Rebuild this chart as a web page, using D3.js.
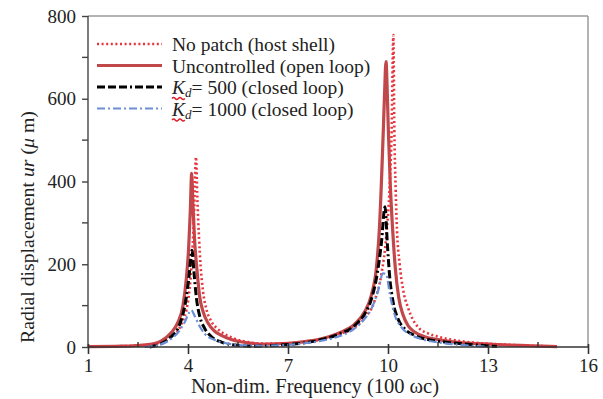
<!DOCTYPE html>
<html>
<head>
<meta charset="utf-8">
<script src="https://cdn.jsdelivr.net/npm/d3@7"></script>
<style>
  body { margin: 0; background: #fff; }
  text { font-family: "Liberation Serif", "Times New Roman", serif; fill: #222; }
</style>
</head>
<body>
<div id="chart"></div>
<script>
"use strict";

var width = 603;
var height = 399;
var margin = { "top": 16, "bottom": 52, "left": 88, "right": 15 };
var innerW = width - margin.left - margin.right;
var innerH = height - margin.top - margin.bottom;
var serif = "Liberation Serif, Times New Roman, serif";

var xTicks = [1, 4, 7, 10, 13, 16];
var xMinor = [2.5, 5.5, 8.5, 11.5, 14.5];
var yTicks = [0, 200, 400, 600, 800];
var yMinor = [100, 300, 500, 700];

// No patch (host shell)
var noPatchX = [1, 2, 2.8, 3.2, 3.5, 3.8, 4.0, 4.1, 4.18, 4.24, 4.28, 4.33, 4.38, 4.45, 4.55, 4.7, 4.9, 5.1, 5.4, 5.8, 6.3, 7, 7.5, 8, 8.5, 9, 9.3, 9.6, 9.8, 9.95, 10.05, 10.11, 10.16, 10.19, 10.23, 10.27, 10.35, 10.45, 10.6, 10.75, 10.9, 11.2, 11.6, 12.2, 13, 14, 15.07];
var noPatchY = [1, 2, 5, 12, 25, 55, 110, 190, 320, 459, 360, 265, 195, 135, 92, 62, 43, 31, 20, 12, 8, 9, 12, 18, 30, 47, 70, 112, 175, 270, 390, 525, 754, 525, 380, 283, 200, 140, 95, 66, 48, 33, 23, 14, 8, 4, 1];

// Uncontrolled (open loop)
var openX = [1, 2, 2.8, 3.2, 3.5, 3.7, 3.85, 3.95, 4.02, 4.07, 4.11, 4.15, 4.2, 4.26, 4.35, 4.45, 4.6, 4.8, 5.0, 5.3, 5.8, 6.3, 7, 7.5, 8, 8.5, 9, 9.3, 9.5, 9.65, 9.74, 9.86, 9.9, 9.94, 9.98, 10.01, 10.07, 10.14, 10.22, 10.32, 10.45, 10.6, 10.8, 11.1, 11.5, 12, 12.7, 13.5, 14.3, 15.07];
var openY = [1, 2, 6, 15, 35, 60, 100, 165, 240, 330, 420, 340, 255, 195, 122, 86, 58, 38, 28, 18, 10, 7, 9, 13, 20, 33, 55, 85, 125, 190, 283, 525, 620, 690, 610, 525, 390, 283, 190, 120, 78, 52, 36, 25, 18, 12, 8, 5, 3, 1];

// Kd = 500 (closed loop)
var kd500X = [2.85, 3.2, 3.5, 3.7, 3.85, 3.95, 4.03, 4.12, 4.18, 4.25, 4.35, 4.5, 4.7, 5.0, 5.5, 6, 6.5, 7, 7.5, 8, 8.5, 9, 9.3, 9.5, 9.65, 9.8, 9.91, 9.98, 10.05, 10.15, 10.3, 10.5, 10.8, 11.2, 11.7, 12.3, 12.8, 13.27];
var kd500Y = [0, 8, 25, 45, 80, 120, 170, 234, 180, 120, 75, 45, 25, 12, 4, 2, 3, 6, 10, 18, 30, 52, 80, 115, 165, 250, 339, 250, 170, 110, 68, 44, 28, 18, 12, 7, 4, 1];

// Kd = 1000 (closed loop)
var kd1000X = [2.7, 3.2, 3.5, 3.7, 3.9, 4.05, 4.1, 4.2, 4.35, 4.5, 4.8, 5.2, 5.7, 6.2, 7, 7.5, 8, 8.5, 9, 9.3, 9.5, 9.7, 9.85, 9.95, 10.05, 10.2, 10.4, 10.7, 11.1, 11.6, 12.2, 12.9];
var kd1000Y = [0, 7, 20, 35, 60, 85, 89, 75, 50, 32, 17, 8, 4, 3, 5, 9, 15, 25, 45, 68, 92, 135, 178, 175, 130, 78, 48, 29, 17, 10, 5, 1];

var seriesNames = ["No patch (host shell)", "Uncontrolled (open loop)", "= 500 (closed loop)", "= 1000 (closed loop)"];

function zipSeries(xs, ys) {
  return xs.map(function (v, i) { return { "x": v, "y": ys[i] }; });
}

var series = [
  { "name": seriesNames[1], "data": zipSeries(openX, openY), "color": "#c0474a", "width": 3.2, "dash": null, "kd": false },
  { "name": seriesNames[0], "data": zipSeries(noPatchX, noPatchY), "color": "#e8343c", "width": 2.6, "dash": "2,2.6", "kd": false },
  { "name": seriesNames[2], "data": zipSeries(kd500X, kd500Y), "color": "#000000", "width": 3, "dash": "8,3,8,3,8,3,2,3", "kd": true },
  { "name": seriesNames[3], "data": zipSeries(kd1000X, kd1000Y), "color": "#6a8fd8", "width": 2.2, "dash": "8,3,2,3", "kd": true }
];
var legendOrder = [1, 0, 2, 3];

var svg = d3.select("#chart").append("svg").attr("width", width).attr("height", height);
var canvas = svg.append("g").attr("transform", "translate(" + margin.left + "," + margin.top + ")");

var x = d3.scaleLinear().domain([1, 16]).range([0, innerW]);
var y = d3.scaleLinear().domain([0, 800]).range([innerH, 0]);

// frame: top and right in grey
canvas.append("line").attr("x1", 0).attr("x2", innerW).attr("y1", 0).attr("y2", 0)
  .attr("stroke", "#9a9a9a").attr("stroke-width", 1.5);
canvas.append("line").attr("x1", innerW).attr("x2", innerW).attr("y1", 0).attr("y2", innerH)
  .attr("stroke", "#9a9a9a").attr("stroke-width", 1.5);

// curves
var line = d3.line().x(function (d) { return x(d.x); }).y(function (d) { return y(d.y); }).curve(d3.curveMonotoneX);
canvas.selectAll(".curve").data(series).enter().append("path")
  .attr("class", "curve")
  .attr("d", function (d) { return line(d.data); })
  .attr("fill", "none")
  .attr("stroke", function (d) { return d.color; })
  .attr("stroke-width", function (d) { return d.width; })
  .attr("stroke-dasharray", function (d) { return d.dash; })
  .attr("stroke-linejoin", "round");

// y axis
var yAxis = d3.axisLeft(y).tickValues(yTicks).tickSize(6).tickPadding(6);
var gY = canvas.append("g").call(yAxis);
gY.attr("font-family", serif);
gY.selectAll(".tick text").style("font-size", "19px");
gY.selectAll("line, path").attr("stroke", "#444").attr("stroke-width", 1.4);
gY.select(".domain").attr("d", "M0," + innerH + "V0");
canvas.append("g").selectAll("line").data(yMinor).enter().append("line")
  .attr("x1", -6).attr("x2", 0).attr("y1", function (d) { return y(d); }).attr("y2", function (d) { return y(d); })
  .attr("stroke", "#444").attr("stroke-width", 1.4);

// x axis
var xAxis = d3.axisBottom(x).tickValues(xTicks).tickSize(7).tickPadding(5);
var gX = canvas.append("g").attr("transform", "translate(0," + innerH + ")").call(xAxis);
gX.attr("font-family", serif);
gX.selectAll(".tick text").style("font-size", "19px");
gX.selectAll("line, path").attr("stroke", "#333").attr("stroke-width", 1.6);
gX.select(".domain").attr("d", "M0,0H" + innerW);
gX.selectAll(".tick line").attr("y1", -3);
gX.append("g").selectAll("line").data(xMinor).enter().append("line")
  .attr("x1", function (d) { return x(d); }).attr("x2", function (d) { return x(d); })
  .attr("y1", -5).attr("y2", 0).attr("stroke", "#333").attr("stroke-width", 1.4);

// axis titles
svg.append("text").attr("x", 315).attr("y", 393).attr("text-anchor", "middle")
  .style("font-size", "20.5px").text("Non-dim. Frequency (100 \u03c9c)");
var yt = svg.append("text").attr("x", 0).attr("y", 0)
  .attr("transform", "translate(34,227) rotate(-90)").attr("text-anchor", "middle")
  .style("font-size", "19.8px");
yt.append("tspan").text("Radial displacement ");
yt.append("tspan").style("font-style", "italic").text("ur");
yt.append("tspan").text(" (");
yt.append("tspan").style("font-style", "italic").text("\u03bc");
yt.append("tspan").text(" m)");

// legend
var legend = svg.append("g").attr("transform", "translate(97,44)");
var rows = legend.selectAll(".row").data(legendOrder.map(function (i) { return series[i]; })).enter().append("g")
  .attr("class", "row")
  .attr("transform", function (d, i) { return "translate(0," + i * 21.5 + ")"; });
rows.append("line").attr("x1", 0).attr("x2", 65).attr("y1", 0).attr("y2", 0)
  .attr("stroke", function (d) { return d.color; })
  .attr("stroke-width", function (d) { return d.width; })
  .attr("stroke-dasharray", function (d) { return d.dash; });
var labels = rows.append("text").attr("x", 75).attr("y", 7).style("font-size", "19.5px");
labels.each(function (d) {
  var t = d3.select(this);
  if (d.kd) {
    t.append("tspan").style("font-style", "italic").text("K");
    t.append("tspan").style("font-style", "italic").style("font-size", "13px").attr("dy", 3).text("d");
    t.append("tspan").attr("dy", -3).text(d.name);
  } else {
    t.text(d.name);
  }
});
// red spell-check squiggle under K_d
rows.filter(function (d) { return d.kd; }).append("path")
  .attr("d", "M75,11.5 q1.6,-2 3.2,0 t3.2,0 t3.2,0 t3.2,0")
  .attr("fill", "none").attr("stroke", "#e0202a").attr("stroke-width", 1.4);
</script>
</body>
</html>
